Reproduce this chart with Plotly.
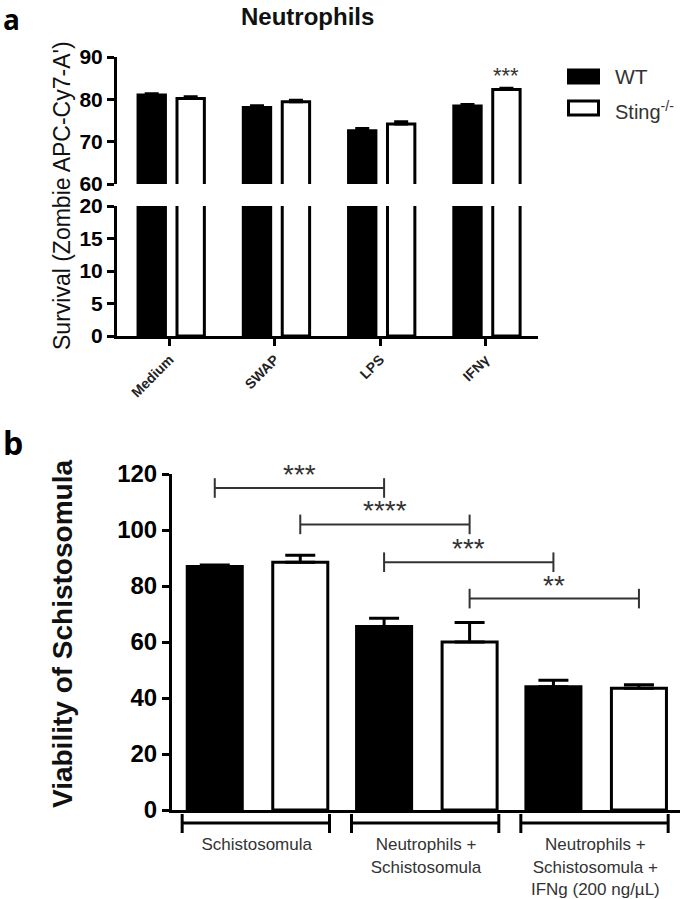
import plotly.graph_objects as go

W, H = 685, 899
def fx(px): return px / W
def fy(py): return 1 - py / H

# ---------------- data ----------------
a_categories = ["Medium", "SWAP", "LPS", "IFNγ"]
a_wt = [81.0, 78.1, 72.6, 78.4]
a_wt_err = [0.3, 0.4, 0.5, 0.4]
a_sting = [80.2, 79.4, 74.2, 82.3]
a_sting_err = [0.4, 0.4, 0.5, 0.3]
a_sig = ["", "", "", "***"]

b_categories = ["Schistosomula", "Neutrophils +<br>Schistosomula",
                "Neutrophils +<br>Schistosomula +<br>IFNg (200 ng/µL)"]
b_wt = [87.0, 65.5, 44.0]
b_wt_err = [0.5, 3.0, 2.3]
b_sting = [88.5, 60.0, 43.5]
b_sting_err = [2.5, 7.0, 1.2]
# (group1, series1, group2, series2, label, bracket height)
b_comparisons = [(0, "WT", 1, "WT", "***", 115),
                 (0, "Sting", 1, "Sting", "****", 102),
                 (1, "WT", 2, "WT", "***", 88.5),
                 (1, "Sting", 2, "Sting", "**", 75.5)]

FONT = "Liberation Sans, Arial, sans-serif"
LW = 3

fig = go.Figure()

# ---------------- panel a ----------------
xa = list(range(len(a_categories)))
a_w, a_off_wt, a_off_st = 0.26, -0.30, 0.07
for yax, xax in (("y", "x"), ("y2", "x2")):
    fig.add_trace(go.Bar(x=xa, y=a_wt, width=a_w, offset=a_off_wt, xaxis=xax, yaxis=yax,
                         marker=dict(color="black", line=dict(color="black", width=LW)),
                         error_y=dict(type="data", array=a_wt_err, arrayminus=[0]*4, symmetric=False,
                                      thickness=LW, width=7, color="black"),
                         name="WT", showlegend=False))
    fig.add_trace(go.Bar(x=xa, y=a_sting, width=a_w, offset=a_off_st, xaxis=xax, yaxis=yax,
                         marker=dict(color="white", line=dict(color="black", width=LW)),
                         error_y=dict(type="data", array=a_sting_err, arrayminus=[0]*4, symmetric=False,
                                      thickness=LW, width=7, color="black"),
                         name="Sting-/-", showlegend=False))

# ---------------- panel b ----------------
xb = list(range(len(b_categories)))
b_w, b_off_wt, b_off_st = 0.325, -0.41, 0.095
fig.add_trace(go.Bar(x=xb, y=b_wt, width=b_w, offset=b_off_wt, xaxis="x3", yaxis="y3",
                     marker=dict(color="black", line=dict(color="black", width=LW)),
                     error_y=dict(type="data", array=b_wt_err, arrayminus=[0]*3, symmetric=False,
                                  thickness=LW, width=15, color="black"),
                     name="WT", showlegend=False))
fig.add_trace(go.Bar(x=xb, y=b_sting, width=b_w, offset=b_off_st, xaxis="x3", yaxis="y3",
                     marker=dict(color="white", line=dict(color="black", width=LW)),
                     error_y=dict(type="data", array=b_sting_err, arrayminus=[0]*3, symmetric=False,
                                  thickness=LW, width=15, color="black"),
                     name="Sting-/-", showlegend=False))

tickfont_a = dict(family=FONT, size=21, color="black", weight="bold")
tickfont_b = dict(family=FONT, size=24, color="black", weight="bold")
common = dict(showline=True, linecolor="black", linewidth=LW, showgrid=False,
              zeroline=False, automargin=False)
tickstyle = dict(ticks="outside", ticklen=7, tickwidth=LW, tickcolor="black")

fig.update_layout(
    width=W, height=H, autosize=False,
    margin=dict(l=0, r=0, t=0, b=0, pad=0),
    paper_bgcolor="white", plot_bgcolor="white",
    barmode="overlay", showlegend=False,
    # panel a bottom
    xaxis=dict(domain=[fx(117), fx(538)], range=[-0.5, 3.5], anchor="y",
               tickvals=xa, ticktext=a_categories, tickangle=-45,
               tickfont=dict(family=FONT, size=14, color="#222", weight="bold"),
               **common, **tickstyle),
    yaxis=dict(domain=[fy(336), fy(206)], range=[0, 20], anchor="x",
               tickvals=[0, 5, 10, 15, 20], tickfont=tickfont_a, **common, **tickstyle),
    # panel a top
    xaxis2=dict(domain=[fx(117), fx(538)], range=[-0.5, 3.5], anchor="y2", matches="x",
                visible=False, automargin=False),
    yaxis2=dict(domain=[fy(184), fy(57)], range=[60, 90], anchor="x2",
                tickvals=[60, 70, 80, 90], tickfont=tickfont_a, **common, **tickstyle),
    # panel b
    xaxis3=dict(domain=[fx(172), fx(680)], range=[-0.5, 2.5], anchor="y3",
                tickvals=xb, ticktext=b_categories, ticks="",
                tickfont=dict(family=FONT, size=17, color="#333"),
                ticklabelstandoff=17, **common),
    yaxis3=dict(domain=[fy(810), fy(474)], range=[0, 120], anchor="x3",
                tickvals=[0, 20, 40, 60, 80, 100, 120], tickfont=tickfont_b,
                **common, **tickstyle),
)

shapes = []
annotations = []

# panel labels and titles
annotations += [
    dict(text="<b>a</b>", x=fx(1), y=fy(19), xref="paper", yref="paper", xanchor="left",
         yanchor="middle", showarrow=False, font=dict(family="Open Sans, " + FONT, size=28, color="black")),
    dict(text="<b>b</b>", x=fx(1), y=fy(442), xref="paper", yref="paper", xanchor="left",
         yanchor="middle", showarrow=False, font=dict(family="Open Sans, " + FONT, size=32, color="black")),
    dict(text="<b>Neutrophils</b>", x=fx(307), y=fy(16), xref="paper", yref="paper",
         xanchor="center", yanchor="middle", showarrow=False,
         font=dict(family=FONT, size=24, color="#111")),
    dict(text="Survival (Zombie APC-Cy7-A')", x=fx(62), y=fy(196), xref="paper", yref="paper",
         textangle=-90, xanchor="center", yanchor="middle", showarrow=False,
         font=dict(family=FONT, size=23, color="#111")),
    dict(text="<b>Viability of Schistosomula</b>", x=fx(62), y=fy(634), xref="paper", yref="paper",
         textangle=-90, xanchor="center", yanchor="middle", showarrow=False,
         font=dict(family=FONT, size=28, color="#111")),
]

# panel a significance
for i, s in enumerate(a_sig):
    if s:
        annotations.append(dict(text=s, x=i + a_off_st + a_w / 2, y=a_sting[i] + a_sting_err[i],
                                xref="x2", yref="y2", yanchor="bottom", yshift=-2, showarrow=False,
                                font=dict(family=FONT, size=22, color="#333")))

# legend (manual)
shapes += [
    dict(type="rect", xref="paper", yref="paper", x0=fx(568.5), x1=fx(598.5), y0=fy(83), y1=fy(70),
         fillcolor="black", line=dict(color="black", width=LW)),
    dict(type="rect", xref="paper", yref="paper", x0=fx(568.5), x1=fx(598.5), y0=fy(115), y1=fy(101),
         fillcolor="white", line=dict(color="black", width=LW)),
]
annotations += [
    dict(text="WT", x=fx(613), y=fy(77), xref="paper", yref="paper", xanchor="left", yanchor="middle",
         showarrow=False, font=dict(family=FONT, size=21, color="#333")),
    dict(text="Sting<sup>-/-</sup>", x=fx(613), y=fy(110), xref="paper", yref="paper", xanchor="left",
         yanchor="middle", showarrow=False, font=dict(family=FONT, size=20, color="#333")),
]

# panel b significance brackets
def bcenter(g, series):
    if series == "WT":
        return g + b_off_wt + b_w / 2
    return g + b_off_st + b_w / 2

for g1, s1, g2, s2, lab, h in b_comparisons:
    x1, x2 = bcenter(g1, s1), bcenter(g2, s2)
    line = dict(color="#333", width=2)
    shapes += [
        dict(type="line", xref="x3", yref="y3", x0=x1, x1=x2, y0=h, y1=h, line=line),
        dict(type="line", xref="x3", yref="y3", x0=x1, x1=x1, y0=h - 3.5, y1=h + 3.5, line=line),
        dict(type="line", xref="x3", yref="y3", x0=x2, x1=x2, y0=h - 3.5, y1=h + 3.5, line=line),
    ]
    annotations.append(dict(text=lab, x=(x1 + x2) / 2, y=h, xref="x3", yref="y3",
                            yanchor="bottom", yshift=-4, showarrow=False,
                            font=dict(family=FONT, size=28, color="#333")))

# panel b group brackets under axis
for g in xb:
    x0, x1 = g - 0.44, g + 0.43
    line = dict(color="black", width=LW)
    shapes += [
        dict(type="line", xref="x3", yref="paper", x0=x0, x1=x1, y0=fy(823), y1=fy(823), line=line),
        dict(type="line", xref="x3", yref="paper", x0=x0, x1=x0, y0=fy(814), y1=fy(833), line=line),
        dict(type="line", xref="x3", yref="paper", x0=x1, x1=x1, y0=fy(814), y1=fy(833), line=line),
    ]

fig.update_layout(shapes=shapes, annotations=annotations)
fig.write_html("out.html", config={"displayModeBar": False},
               post_script="document.body.style.margin='0px';")
